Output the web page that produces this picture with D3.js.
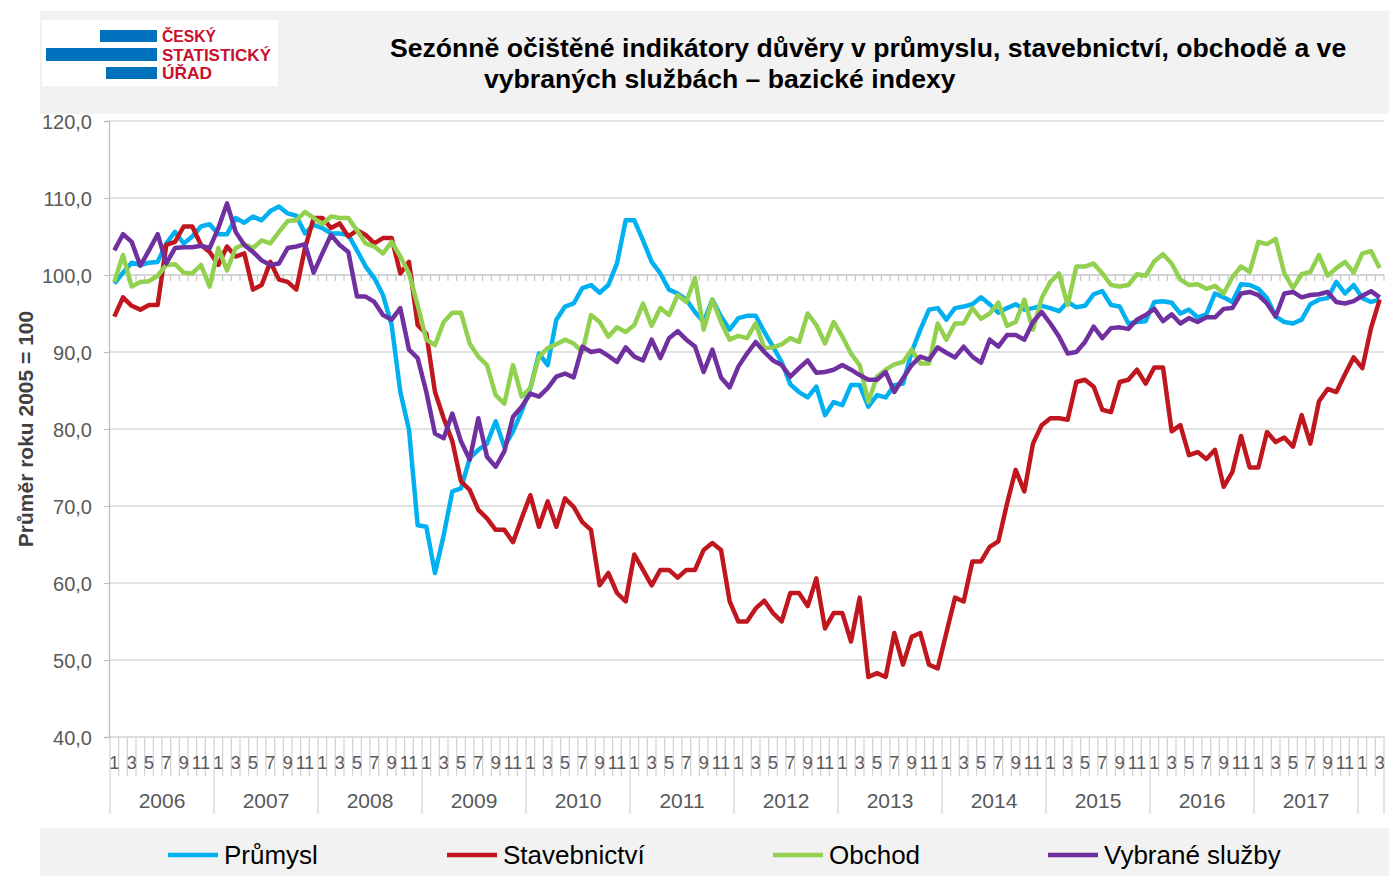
<!DOCTYPE html>
<html>
<head>
<meta charset="utf-8">
<title>Indikátory důvěry</title>
<script src="https://d3js.org/d3.v7.min.js"></script>
<style>
  body { margin: 0; background: #fff; }
  text { font-family: "Liberation Sans", Arial, sans-serif; }
</style>
</head>
<body>
<svg width="1389" height="876"></svg>
<script>

// months on the x axis: 2006-01 .. 2018-03
const years = [2006, 2007, 2008, 2009, 2010, 2011, 2012, 2013, 2014, 2015, 2016, 2017, 2018];
const lastYearMonths = 3;
const yearLabels = ['2006', '2007', '2008', '2009', '2010', '2011', '2012', '2013', '2014', '2015', '2016', '2017'];
const yTicks = [40, 50, 60, 70, 80, 90, 100, 110, 120];

const prumysl = [
  98.9, 100.3, 101.6, 101.3, 101.6, 101.7, 104.1, 105.6, 104.1, 105.0, 106.3, 106.6,
  105.3, 105.3, 107.4, 106.8, 107.6, 107.1, 108.3, 108.9, 108.0, 107.7, 105.4, 106.5,
  106.1, 105.4, 105.4, 105.2, 103.2, 101.1, 99.6, 97.4, 93.5, 84.8, 79.9, 67.5,
  67.3, 61.3, 66.2, 71.9, 72.3, 76.2, 77.3, 78.1, 81.0, 77.7, 79.7, 82.3,
  85.3, 89.8, 88.3, 94.2, 95.9, 96.3, 98.3, 98.7, 97.7, 98.7, 101.5, 107.1,
  107.1, 104.5, 101.7, 100.2, 98.1, 97.6, 96.8, 95.2, 93.9, 96.8, 94.6, 92.9,
  94.4, 94.7, 94.7, 92.6, 90.7, 88.7, 85.8, 84.8, 84.1, 85.5, 81.8, 83.5,
  83.1, 85.7, 85.7, 82.9, 84.4, 84.1, 85.7, 85.9, 90.0, 92.9, 95.5, 95.7,
  94.2, 95.7, 95.9, 96.2, 97.1, 96.2, 95.1, 95.7, 96.2, 95.5, 95.7, 96.0,
  95.7, 95.3, 96.5, 95.8, 96.0, 97.5, 97.9, 96.1, 95.9, 93.7, 93.9, 94.0,
  96.5, 96.6, 96.4, 95.0, 95.5, 94.5, 94.9, 97.6, 97.1, 96.5, 98.8, 98.7,
  98.2, 97.0, 94.6, 93.9, 93.7, 94.2, 96.2, 96.8, 97.0, 99.1, 97.6, 98.7,
  97.0, 96.5, 96.8
];

const stavebnictvi = [
  94.6, 97.1, 96.0, 95.5, 96.1, 96.1, 103.9, 104.3, 106.3, 106.3, 103.9, 103.0,
  101.3, 103.7, 102.4, 102.8, 98.1, 98.7, 101.7, 99.4, 99.1, 98.1, 103.5, 107.4,
  107.4, 106.1, 106.7, 105.0, 105.8, 105.2, 104.1, 104.8, 104.8, 100.2, 101.7, 93.5,
  92.4, 84.8, 81.4, 78.4, 73.2, 72.1, 69.5, 68.4, 66.9, 66.9, 65.3, 68.4,
  71.4, 67.3, 70.6, 67.3, 71.0, 69.9, 67.9, 66.9, 59.7, 61.3, 58.7, 57.6,
  63.7, 61.7, 59.7, 61.7, 61.7, 60.7, 61.7, 61.7, 64.3, 65.2, 64.3, 57.6,
  55.0, 55.0, 56.7, 57.7, 56.1, 55.0, 58.7, 58.7, 57.0, 60.6, 54.1, 56.1,
  56.1, 52.4, 58.1, 47.8, 48.3, 47.8, 53.5, 49.4, 53.0, 53.5, 49.4, 48.9,
  53.5, 58.1, 57.6, 62.8, 62.8, 64.7, 65.4, 70.3, 74.7, 71.9, 78.1, 80.5,
  81.4, 81.4, 81.2, 86.1, 86.4, 85.5, 82.5, 82.2, 86.1, 86.4, 87.7, 85.9,
  88.0, 88.0, 79.7, 80.5, 76.6, 77.0, 76.1, 77.3, 72.5, 74.4, 79.1, 75.0,
  75.0, 79.6, 78.3, 78.9, 77.7, 81.8, 78.1, 83.6, 85.2, 84.8, 87.1, 89.3,
  87.9, 93.1, 96.8
];

const obchod = [
  99.1, 102.6, 98.5, 99.1, 99.2, 99.9, 101.3, 101.4, 100.3, 100.2, 101.3, 98.5,
  103.5, 100.6, 103.5, 104.0, 103.5, 104.5, 104.1, 105.6, 107.0, 107.1, 108.2, 107.4,
  106.6, 107.6, 107.4, 107.4, 105.8, 104.1, 103.7, 102.8, 104.3, 102.4, 100.2, 96.1,
  91.6, 90.9, 93.9, 95.1, 95.1, 91.1, 89.4, 88.3, 84.4, 83.3, 88.3, 84.2,
  85.3, 89.4, 90.5, 91.0, 91.6, 91.1, 90.0, 94.8, 93.9, 92.0, 93.2, 92.6,
  93.5, 96.3, 93.4, 95.7, 94.8, 97.4, 96.5, 99.6, 92.9, 96.8, 93.9, 91.6,
  92.1, 91.8, 93.7, 90.5, 90.6, 91.0, 91.8, 91.3, 95.0, 93.5, 91.1, 93.9,
  92.0, 89.8, 88.3, 83.5, 86.8, 87.7, 88.4, 88.7, 90.3, 88.5, 88.5, 93.7,
  91.6, 93.7, 93.7, 95.7, 94.3, 95.0, 96.4, 93.4, 93.9, 96.8, 92.9, 97.0,
  99.1, 100.2, 96.1, 101.1, 101.1, 101.5, 100.2, 98.7, 98.5, 98.7, 100.1, 99.9,
  101.8, 102.7, 101.5, 99.4, 98.7, 98.8, 98.2, 98.6, 97.6, 99.7, 101.1, 100.4,
  104.3, 104.0, 104.7, 100.2, 98.3, 100.1, 100.4, 102.6, 99.9, 100.9, 101.7, 100.3,
  102.8, 103.1, 100.9
];

const sluzby = [
  103.2, 105.3, 104.3, 101.2, 103.2, 105.3, 101.5, 103.5, 103.6, 103.6, 103.8, 103.5,
  106.1, 109.3, 105.6, 103.9, 103.0, 101.9, 101.3, 101.5, 103.5, 103.7, 104.0, 100.3,
  102.8, 105.2, 103.9, 103.0, 97.2, 97.2, 96.5, 94.8, 94.2, 95.7, 90.3, 89.2,
  84.8, 79.4, 78.8, 82.0, 78.4, 76.0, 81.4, 76.4, 75.1, 77.1, 81.6, 82.9,
  84.6, 84.2, 85.3, 86.8, 87.2, 86.7, 90.7, 90.0, 90.2, 89.5, 88.7, 90.6,
  89.4, 88.9, 91.6, 89.2, 91.8, 92.7, 91.6, 90.7, 87.4, 90.3, 86.7, 85.4,
  88.1, 89.8, 91.3, 90.0, 88.9, 88.3, 86.8, 87.9, 88.9, 87.3, 87.4, 87.7,
  88.3, 87.7, 87.0, 86.4, 86.4, 87.4, 84.8, 86.6, 88.3, 89.4, 89.0, 90.6,
  89.9, 89.3, 90.7, 89.4, 88.6, 91.6, 90.7, 92.2, 92.2, 91.6, 93.9, 95.2,
  93.7, 92.0, 89.8, 90.0, 91.3, 93.3, 91.8, 93.1, 93.2, 93.0, 94.2, 94.8,
  95.6, 94.0, 94.9, 93.7, 94.4, 93.9, 94.5, 94.5, 95.6, 95.7, 97.6, 97.8,
  97.4, 96.3, 94.6, 97.6, 97.8, 97.1, 97.4, 97.5, 97.8, 96.5, 96.3, 96.6,
  97.3, 97.9, 97.1
];

const seriesNames = ['Průmysl', 'Stavebnictví', 'Obchod', 'Vybrané služby'];
const seriesColors = ['#00b0f0', '#c0171f', '#92d050', '#7030a0'];
const allSeries = [prumysl, stavebnictvi, obchod, sluzby];

// month list
const months = [];
years.forEach((y, yi) => {
  const n = yi === years.length - 1 ? lastYearMonths : 12;
  for (let m = 1; m <= n; m++) months.push({ year: y, m: m, key: y + '-' + m });
});

const svg = d3.select('svg');
const W = 1389, H = 876;

// ---- header band + logo + title
svg.append('rect').attr('x', 40).attr('y', 11).attr('width', W - 40).attr('height', 103).style('fill', '#f2f2f2');
svg.append('rect').attr('x', 42).attr('y', 20).attr('width', 236).attr('height', 66).style('fill', '#fff');

let logo = svg.append('g');
logo.append('rect').attr('x', 100).attr('y', 30).attr('width', 57).attr('height', 12).style('fill', '#0071bc');
logo.append('rect').attr('x', 46).attr('y', 48).attr('width', 111).attr('height', 13).style('fill', '#0071bc');
logo.append('rect').attr('x', 106).attr('y', 67).attr('width', 51).attr('height', 12).style('fill', '#0071bc');
[['ČESKÝ', 42, 54], ['STATISTICKÝ', 61, 109], ['ÚŘAD', 79, 50]].forEach(d => {
  logo.append('text')
    .attr('x', 162).attr('y', d[1])
    .attr('textLength', d[2]).attr('lengthAdjust', 'spacingAndGlyphs')
    .style('font-size', '17px').style('font-weight', 'bold').style('fill', '#c8102e')
    .text(d[0]);
});

svg.append('text').attr('x', 390).attr('y', 57)
  .style('font-size', '26.6px').style('font-weight', 'bold').style('fill', '#000')
  .text('Sezónně očištěné indikátory důvěry v průmyslu, stavebnictví, obchodě a ve');
svg.append('text').attr('x', 484).attr('y', 88)
  .style('font-size', '26.6px').style('font-weight', 'bold').style('fill', '#000')
  .text('vybraných službách – bazické indexy');

// ---- scales
const x0 = 110, x1 = 1384;
const x = d3.scaleBand().domain(months.map(d => d.key)).range([x0, x1]).paddingInner(0).paddingOuter(0);
const y = d3.scaleLinear().domain([40, 120]).range([737, 121]);
const bw = x.bandwidth();

// gridlines
svg.append('g').selectAll('line').data(yTicks.filter(v => v !== 40 && v !== 100)).join('line')
  .attr('x1', x0 - 1).attr('x2', x1).attr('y1', d => y(d)).attr('y2', d => y(d))
  .style('stroke', '#d9d9d9').style('stroke-width', 1.3);

// y axis
let yAxis = svg.append('g').attr('transform', 'translate(' + (x0 - 1) + ',0)')
  .call(d3.axisLeft(y).tickValues(yTicks).tickSize(5).tickFormat(d => d3.format('.1f')(d).replace('.', ',')));
yAxis.select('.domain').style('stroke', '#bfbfbf').style('stroke-width', 1.3);
yAxis.selectAll('.tick line').style('stroke', '#bfbfbf');
yAxis.selectAll('.tick text').attr('x', -17).attr('dy', '0.35em')
  .style('font-size', '20px').style('fill', '#595959').style('font-family', '"Liberation Sans", Arial, sans-serif');

// axis crossing at 100 with small ticks
const boundaries = d3.range(months.length + 1).map(i => x0 + i * bw);
svg.append('line').attr('x1', x0 - 1).attr('x2', x1).attr('y1', y(100)).attr('y2', y(100))
  .style('stroke', '#c8c8c8').style('stroke-width', 1.5);
svg.append('g').selectAll('line').data(boundaries.slice(1)).join('line')
  .attr('x1', d => d).attr('x2', d => d).attr('y1', y(100)).attr('y2', y(100) + 6)
  .style('stroke', '#c8c8c8').style('stroke-width', 1.2);

// bottom category axis
svg.append('line').attr('x1', x0 - 1).attr('x2', x1).attr('y1', y(40)).attr('y2', y(40))
  .style('stroke', '#d0d0d0').style('stroke-width', 1.5);
svg.append('g').selectAll('line').data(boundaries).join('line')
  .attr('x1', d => d).attr('x2', d => d)
  .attr('y1', y(40))
  .attr('y2', (d, i) => (i % 12 === 0 || i === months.length) ? 814 : 776)
  .style('stroke', '#d0d0d0').style('stroke-width', 1.2);

svg.append('g').selectAll('text').data(months.filter(d => d.m % 2 === 1)).join('text')
  .attr('x', d => x(d.key) + bw / 2).attr('y', 769)
  .attr('text-anchor', 'middle')
  .style('font-size', '18px').style('fill', '#595959')
  .text(d => d.m);

svg.append('g').selectAll('text').data(yearLabels).join('text')
  .attr('x', d => x(d + '-1') + bw * 6).attr('y', 808)
  .attr('text-anchor', 'middle')
  .style('font-size', '21px').style('fill', '#595959')
  .text(d => d);

// y title
svg.append('text').attr('transform', 'translate(33,429) rotate(-90)')
  .attr('text-anchor', 'middle')
  .style('font-size', '21px').style('font-weight', 'bold').style('fill', '#404040')
  .text('Průměr roku 2005 = 100');

// ---- lines
let line = d3.line().x((d, i) => x(months[i].key) + bw / 2).y(d => y(d));
allSeries.forEach((s, k) => {
  svg.append('path').datum(s).attr('d', line)
    .style('fill', 'none').style('stroke', seriesColors[k])
    .style('stroke-width', 4.5).style('stroke-linejoin', 'round');
});

// ---- legend
svg.append('rect').attr('x', 40).attr('y', 828).attr('width', W - 40).attr('height', 48).style('fill', '#f2f2f2');
const legendX = [168, 447, 773, 1048];
seriesNames.forEach((name, k) => {
  let g = svg.append('g').attr('transform', 'translate(' + legendX[k] + ',855)');
  g.append('line').attr('x1', 0).attr('x2', 50).attr('y1', 0).attr('y2', 0)
    .style('stroke', seriesColors[k]).style('stroke-width', 4.5);
  g.append('text').attr('x', 56).attr('y', 9)
    .style('font-size', '26px').style('fill', '#000')
    .text(name);
});

</script>
</body>
</html>
